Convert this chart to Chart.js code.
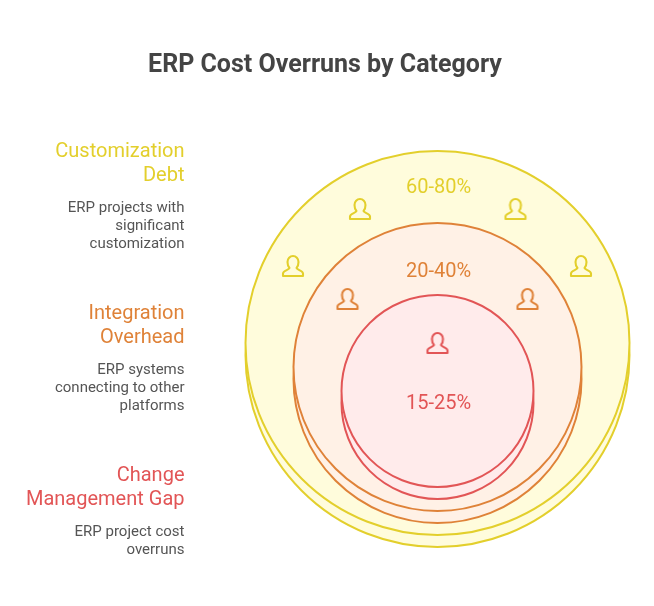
<!DOCTYPE html>
<html>
<head>
<meta charset="utf-8">
<title>ERP Cost Overruns by Category</title>
<script src="https://cdn.jsdelivr.net/npm/chart.js@4"></script>
<style>
    html, body { margin: 0; padding: 0; background: #ffffff; overflow: hidden; }
    #chart-box { position: relative; width: 654px; height: 606px; }
</style>
</head>
<body>
<div id="chart-box"><canvas id="overruns"></canvas></div>
<script>
// chart content, outer ring first
const chartTitle = 'ERP Cost Overruns by Category';
const categories = [['Customization', 'Debt'], ['Integration', 'Overhead'], ['Change', 'Management Gap']];
const descriptions = [
    ['ERP projects with', 'significant', 'customization'],
    ['ERP systems', 'connecting to other', 'platforms'],
    ['ERP project cost', 'overruns']
];
const overrunLow = [60, 20, 15];
const overrunHigh = [80, 40, 25];
const iconCounts = [4, 2, 1];

// layout of the diagram, in page pixels
const layout = {
    centerX: 437.5,
    ringRadius: [192, 144, 96],
    ringTop: [343, 367, 391],
    ringBottom: [355, 379, 403],
    rangeY: [193, 277, 409],
    icons: [
        [[360, 209], [515.5, 209], [293, 266], [581, 266]],
        [[347.5, 299], [527.5, 299]],
        [[437.5, 343]]
    ],
    headingY: [157, 319, 481],
    textRight: 184.5
};

const lineColors = ['#e3cf2c', '#df8238', '#e25556'];
const fillColors = ['#fffcdc', '#fff1e6', '#ffebeb'];
const textColor = '#555555';

function makeIcon(color) {
    const canvas = document.createElement('canvas');
    canvas.width = 24;
    canvas.height = 24;
    const ctx = canvas.getContext('2d');
    ctx.translate(1, 1);
    ctx.strokeStyle = color;
    ctx.lineWidth = 2.1;
    ctx.lineJoin = 'round';
    ctx.beginPath();
    ctx.moveTo(1, 21);
    ctx.lineTo(21, 21);
    ctx.lineTo(21, 18.5);
    ctx.bezierCurveTo(21, 15.5, 15, 15, 14.5, 13);
    ctx.bezierCurveTo(16, 11.5, 16.5, 9.5, 16.5, 7);
    ctx.bezierCurveTo(16.5, 3.5, 14, 1, 11, 1);
    ctx.bezierCurveTo(8, 1, 5.5, 3.5, 5.5, 7);
    ctx.bezierCurveTo(5.5, 9.5, 6, 11.5, 7.5, 13);
    ctx.bezierCurveTo(7, 15, 1, 15.5, 1, 18.5);
    ctx.closePath();
    ctx.stroke();
    return canvas;
}

// side texts and the percentage labels
const textPlugin = {
    id: 'sideText',
    afterDatasetsDraw(chart) {
        const ctx = chart.ctx;
        ctx.save();
        ctx.textBaseline = 'alphabetic';
        categories.forEach((lines, i) => {
            let y = layout.headingY[i];
            ctx.textAlign = 'right';
            ctx.fillStyle = lineColors[i];
            ctx.font = '20px Roboto';
            lines.forEach((line, n) => {
                ctx.fillText(line, layout.textRight, y + n * 24);
            });
            ctx.fillStyle = textColor;
            ctx.font = '15px Roboto';
            y += (lines.length - 1) * 24 + 31;
            descriptions[i].forEach((line, n) => {
                ctx.fillText(line, layout.textRight, y + n * 18);
            });

            ctx.textAlign = 'center';
            ctx.fillStyle = lineColors[i];
            ctx.font = '20px Roboto';
            ctx.fillText(overrunLow[i] + '-' + overrunHigh[i] + '%', layout.centerX + 1, layout.rangeY[i]);
        });
        ctx.restore();
    }
};

const datasets = [];
categories.forEach((lines, i) => {
    datasets.push({
        type: 'bubble',
        label: lines.join(' '),
        order: 10 - i * 2,
        data: [
            { x: layout.centerX, y: layout.ringBottom[i], r: layout.ringRadius[i] },
            { x: layout.centerX, y: layout.ringTop[i], r: layout.ringRadius[i] }
        ],
        backgroundColor: fillColors[i],
        borderColor: lineColors[i],
        borderWidth: 2,
        hoverRadius: 0,
        clip: false
    });
    datasets.push({
        type: 'scatter',
        label: lines.join(' ') + ' icons',
        order: 9 - i * 2,
        data: layout.icons[i].slice(0, iconCounts[i]).map(p => ({ x: p[0], y: p[1] })),
        pointStyle: makeIcon(lineColors[i]),
        clip: false
    });
});

// the title block ends here, the y scale starts below it
const titleBottom = 81;
// the title sits a little left of the page centre
const rightGap = 4;

new Chart(document.getElementById('overruns'), {
    data: { datasets: datasets },
    plugins: [textPlugin],
    options: {
        responsive: true,
        maintainAspectRatio: false,
        animation: false,
        layout: { padding: { right: rightGap }, autoPadding: false },
        plugins: {
            legend: { display: false },
            tooltip: { enabled: false },
            title: {
                display: true,
                text: chartTitle,
                color: '#444444',
                font: { family: 'Roboto', size: 25, weight: 'bold', lineHeight: 1.2 },
                padding: { top: 51, bottom: 0 }
            }
        },
        scales: {
            x: { type: 'linear', display: false, min: 0, max: 654 - rightGap },
            y: { type: 'linear', display: false, min: titleBottom, max: 606, reverse: true }
        }
    }
});
</script>
</body>
</html>
